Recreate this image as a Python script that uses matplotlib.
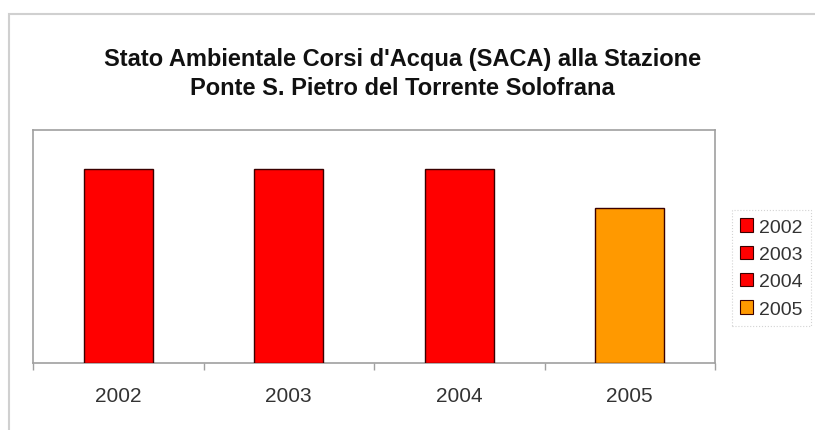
import matplotlib
matplotlib.use("Agg")
import matplotlib.pyplot as plt
from matplotlib.patches import Patch, Rectangle

# SACA class per year at Ponte S. Pietro station
years = ["2002", "2003", "2004", "2005"]
saca_class = [5, 5, 5, 4]
bar_colors = ["#FF0000", "#FF0000", "#FF0000", "#FF9900"]

title_lines = ["Stato Ambientale Corsi d'Acqua (SACA) alla Stazione",
               "Ponte S. Pietro del Torrente Solofrana"]

plt.rcParams["font.family"] = ["Liberation Sans", "DejaVu Sans"]

W, H = 815, 431
fig = plt.figure(figsize=(W / 100, H / 100), dpi=100)
fig.patch.set_facecolor("white")

# outer chart-area frame (top and left edges visible)
fig.add_artist(Rectangle((9 / W, -0.1), 1.2, (H - 15) / H + 0.1,
                         transform=fig.transFigure, fill=False,
                         edgecolor="#d0d0d0", linewidth=1.5))

ax = fig.add_axes([33 / W, (H - 364) / H, (715 - 33) / W, (364 - 131) / H])
x = list(range(len(years)))
ax.bar(x, saca_class, width=0.405, color=bar_colors,
       edgecolor="#3a0000", linewidth=1.0, zorder=3)

ax.set_xlim(-0.5, len(years) - 0.5)
ax.set_ylim(0, 6)
ax.set_yticks([])

# boundary ticks between categories, labels at category centres
ax.set_xticks([i - 0.5 for i in range(len(years) + 1)])
ax.set_xticklabels([])
ax.tick_params(axis="x", which="major", length=5, color="#a0a0a0", width=1)
ax.set_xticks(x, minor=True)
ax.set_xticklabels(years, minor=True)
ax.tick_params(axis="x", which="minor", length=0, pad=16.5,
               labelsize=15, labelcolor="#333333")

for s in ax.spines.values():
    s.set_color("#a0a0a0")
    s.set_linewidth(1.2)

for line, ybase in zip(title_lines, [66, 95]):
    fig.text(402.5 / W, (H - ybase) / H, line, ha="center", va="baseline",
             fontsize=17, fontweight="bold", color="#111111")

handles = [Patch(facecolor=c, edgecolor="#3a0000", linewidth=0.8) for c in bar_colors]
leg = fig.legend(handles, years, loc="center left",
                 bbox_to_anchor=(732 / W, (H - 269) / H),
                 fontsize=14, handlelength=0.7, handleheight=0.7,
                 handletextpad=0.3, labelspacing=0.5, borderpad=0.4,
                 borderaxespad=0, frameon=True, fancybox=False)
leg.get_frame().set_edgecolor("#c8c8c8")
leg.get_frame().set_linestyle(":")
leg.get_frame().set_linewidth(0.8)
for t in leg.get_texts():
    t.set_color("#333333")

fig.savefig("out.png", dpi=100)
